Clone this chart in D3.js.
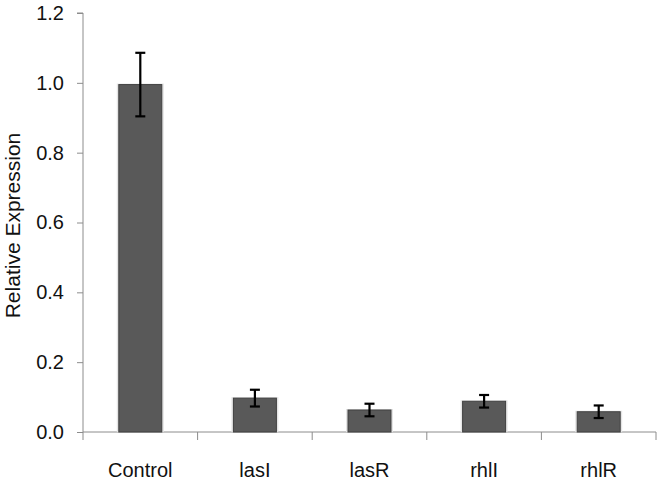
<!DOCTYPE html>
<html><head><meta charset="utf-8">
<script src="https://cdn.jsdelivr.net/npm/d3@7"></script>
<style>body{margin:0;background:#fff}</style>
</head><body>
<svg id="c" width="664" height="486"></svg>
<script>
const categories = ["Control", "lasI", "lasR", "rhlI", "rhlR"];
const values = [0.995, 0.097, 0.063, 0.088, 0.058];
const errors = [0.091, 0.024, 0.018, 0.018, 0.018];
const yTicks = [0, 0.2, 0.4, 0.6, 0.8, 1.0, 1.2];

const svg = d3.select("#c");
const m = {left: 83, right: 8, top: 13, bottom: 54};
const W = 664, H = 486;
const x = d3.scaleBand().domain(categories).range([m.left, W - m.right]).paddingInner(0.625).paddingOuter(0.3125);
const y = d3.scaleLinear().domain([0, 1.2]).range([432, 13]);
const font = "Liberation Sans, Arial, sans-serif";

// y axis
const ya = svg.append("g").attr("transform", `translate(${m.left},0)`)
  .call(d3.axisLeft(y).tickValues(yTicks).tickFormat(d3.format(".1f")).tickSize(6).tickPadding(13));
ya.select(".domain").attr("stroke", "#8c8c8c").attr("d", `M-6,${y(1.2)}H0V${y(0)}`);
ya.selectAll(".tick line").attr("stroke", "#8c8c8c");
ya.selectAll(".tick text").attr("font-family", font).attr("font-size", 20).attr("fill", "#111");

// x axis
const xa = svg.append("g").attr("transform", `translate(0,${y(0)})`);
xa.append("line").attr("x1", m.left).attr("x2", W - m.right).attr("stroke", "#8c8c8c");
const bounds = d3.range(categories.length + 1).map(i => m.left + i * (W - m.right - m.left) / categories.length);
xa.selectAll(".bt").data(bounds).join("line").attr("x1", d => d).attr("x2", d => d)
  .attr("y1", 0).attr("y2", 8).attr("stroke", "#8c8c8c");
xa.selectAll(".lab").data(categories).join("text")
  .attr("x", d => x(d) + x.bandwidth() / 2).attr("y", 45)
  .attr("text-anchor", "middle").attr("font-family", font).attr("font-size", 20).attr("fill", "#111")
  .text(d => d);

// bars: light shadow + bar
const g = svg.append("g");
g.selectAll(".sh").data(categories).join("rect")
  .attr("x", d => x(d) - 2).attr("width", x.bandwidth() + 4)
  .attr("y", (d, i) => y(values[i]) - 1).attr("height", (d, i) => y(0) - y(values[i]) + 1)
  .attr("fill", "#e4e4e4");
g.selectAll(".bar").data(categories).join("rect")
  .attr("x", d => x(d)).attr("width", x.bandwidth())
  .attr("y", (d, i) => y(values[i])).attr("height", (d, i) => y(0) - y(values[i]))
  .attr("fill", "#595959").attr("stroke", "#404040").attr("stroke-width", 1);

// error bars
const eb = svg.append("g").attr("stroke", "#000").attr("stroke-width", 2.2);
categories.forEach((c, i) => {
  const cx = x(c) + x.bandwidth() / 2;
  const t = y(values[i] + errors[i]), b = y(values[i] - errors[i]);
  eb.append("line").attr("x1", cx).attr("x2", cx).attr("y1", t).attr("y2", b);
  eb.append("line").attr("x1", cx - 5).attr("x2", cx + 5).attr("y1", t).attr("y2", t);
  eb.append("line").attr("x1", cx - 5).attr("x2", cx + 5).attr("y1", b).attr("y2", b);
});

// y label
svg.append("text").attr("transform", `translate(20,${(y(0) + y(1.2)) / 2 + 3}) rotate(-90)`)
  .attr("text-anchor", "middle").attr("font-family", font).attr("font-size", 21).attr("fill", "#111")
  .text("Relative Expression");
</script>
</body></html>
